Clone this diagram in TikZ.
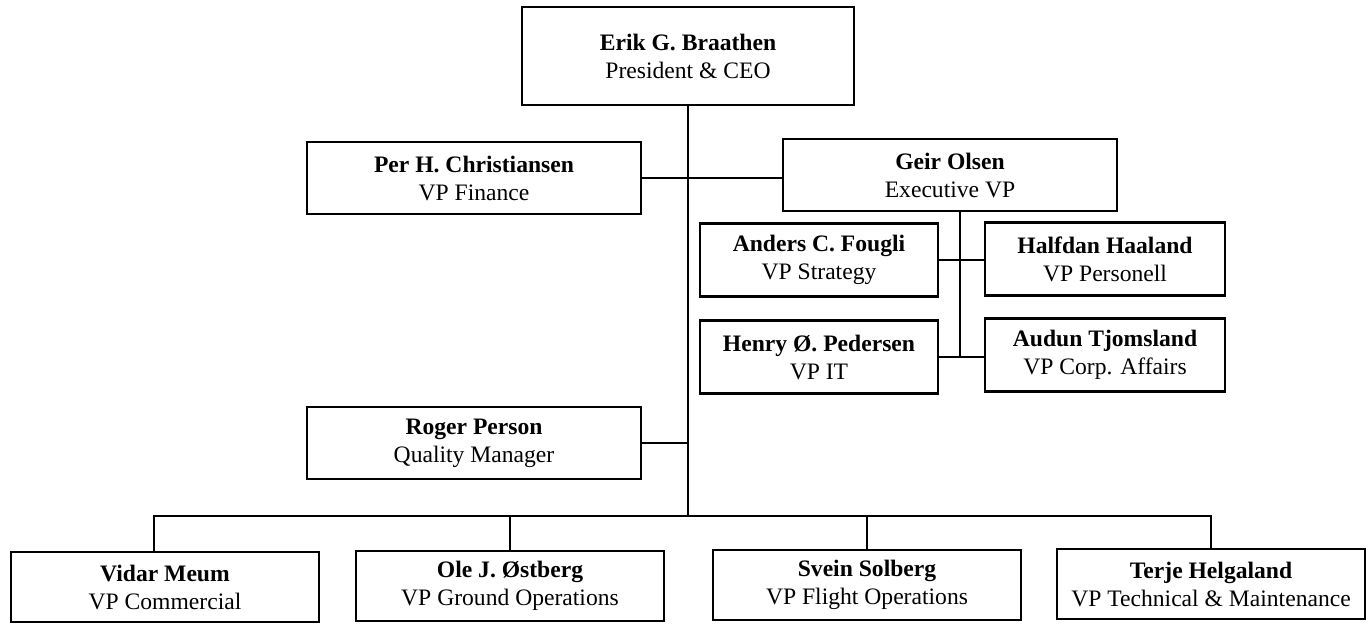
\documentclass[tikz,border=0pt]{standalone}
\usepackage{fontspec}
\setmainfont{Liberation Serif}
\usetikzlibrary{shapes,positioning}

\begin{document}
\begin{tikzpicture}[x=0.5pt, y=-0.5pt, line width=1pt,
  box/.style={rectangle, draw, line width=1.2pt, align=center, inner sep=2pt, font=\fontsize{11.8}{14}\selectfont},
  vpbox/.style={box, minimum width=167pt, minimum height=36pt},
  subbox/.style={box, minimum width=119pt, minimum height=36.5pt},
  rowbox/.style={box, minimum width=154pt, minimum height=35pt}]
\useasboundingbox (0,0) rectangle (1368,623);
\node (ceo) [box, minimum width=166pt, minimum height=49pt] at (688,56) {\textbf{Erik G. Braathen}\\President \& CEO};
\node (fin) [vpbox] at (474,178) {\textbf{Per H. Christiansen}\\VP Finance};
\node (exec) [vpbox] at (950,175) {\textbf{Geir Olsen}\\Executive VP};
\node (strat) [subbox] at (819,260) {\textbf{Anders C. Fougli}\\VP Strategy};
\node (pers) [subbox, minimum width=120pt] at (1105,259) {\textbf{Halfdan Haaland}\\VP Personell};
\node (it) [subbox] at (819,357) {\textbf{Henry Ø. Pedersen}\\VP IT};
\node (corp) [subbox, minimum width=120pt] at (1105,355) {\textbf{Audun Tjomsland}\\VP Corp. Affairs};
\node (qual) [vpbox] at (474,443) {\textbf{Roger Person}\\Quality Manager};
\node (comm) [rowbox] at (165,587) {\textbf{Vidar Meum}\\VP Commercial};
\node (ground) [rowbox] at (510,586) {\textbf{Ole J. Østberg}\\VP Ground Operations};
\node (flight) [rowbox] at (867,585) {\textbf{Svein Solberg}\\VP Flight Operations};
\node (tech) [rowbox] at (1211,584) {\textbf{Terje Helgaland}\\VP Technical \& Maintenance};

\coordinate (busL) at (154,516);
\coordinate (busR) at (tech.north |- busL);
\coordinate (execv) at ([xshift=5pt]exec.south);

\draw (ceo.south) -- (ceo.south |- busL);
\draw (busL |- comm.north) -- (busL) -- (busR) -- (tech.north);
\foreach \n in {ground,flight} \draw (\n.north) -- (\n.north |- busL);
\draw (fin.east) -- (fin.east -| exec.west);
\draw (qual.east) -- (qual.east -| ceo.south);
\draw (execv) -- (execv |- it.east);
\draw (strat.east) -- (strat.east -| pers.west);
\draw (it.east) -- (it.east -| corp.west);
\end{tikzpicture}
\end{document}
